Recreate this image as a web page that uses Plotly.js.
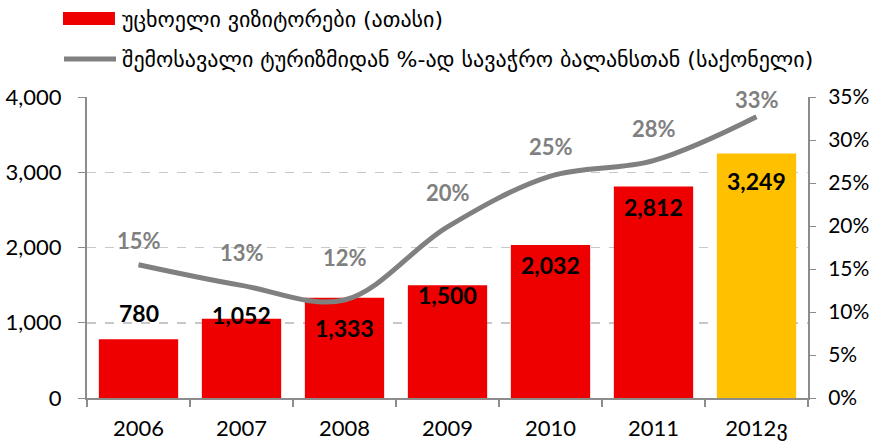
<!DOCTYPE html>
<html>
<head>
<meta charset="utf-8">
<script src="https://cdn.plot.ly/plotly-3.0.1.min.js"></script>
<style>html,body{margin:0;padding:0;background:#fff;} #chart{width:872px;height:443px;}</style>
</head>
<body>
<div id="chart"></div>
<script>
const years = ["2006", "2007", "2008", "2009", "2010", "2011", "2012ვ"];
const visitors = [780, 1052, 1333, 1500, 2032, 2812, 3249];
const visitorLabels = ["780", "1,052", "1,333", "1,500", "2,032", "2,812", "3,249"];
const share = [15.5, 13.1, 11.4, 19.9, 25.8, 27.6, 32.7];
const shareLabels = ["15%", "13%", "12%", "20%", "25%", "28%", "33%"];
const barName = "უცხოელი ვიზიტორები (ათასი)";
const lineName = "შემოსავალი ტურიზმიდან %-ად სავაჭრო ბალანსთან (საქონელი)";

const red = "#EE0000", yellow = "#FFC000", grey = "#808080";
const barColors = [red, red, red, red, red, red, yellow];
const barLabelShift = [26, 4, -30, -10, -20, -21, -27];
const lineLabelShift = [24, 33, 42, 34, 30, 32, 17];

const font = "Lato, 'DejaVu Sans', sans-serif";
const legendFont = "'DejaVu Sans', sans-serif";

const traces = [
  {
    type: "bar", x: years, y: visitors, name: barName,
    marker: {color: barColors}, showlegend: false, hoverinfo: "none"
  },
  {
    type: "scatter", mode: "lines", x: years, y: share.map(v => v / 100), name: lineName,
    yaxis: "y2", line: {color: grey, width: 5, shape: "spline", smoothing: 1},
    showlegend: false, hoverinfo: "none"
  }
];

const annotations = [];
years.forEach((yr, i) => {
  annotations.push({
    x: i, y: visitors[i], xref: "x", yref: "y", text: "<b>" + visitorLabels[i] + "</b>",
    showarrow: false, yshift: barLabelShift[i], font: {family: font, size: 23, color: "#000"}
  });
  annotations.push({
    x: i, y: share[i] / 100, xref: "x", yref: "y2", text: "<b>" + shareLabels[i] + "</b>",
    showarrow: false, yshift: lineLabelShift[i], font: {family: font, size: 22, color: grey}
  });
});
// legend texts
annotations.push({
  x: 0.0458, y: 1.259, xref: "paper", yref: "paper", xanchor: "left", yanchor: "middle",
  text: barName, showarrow: false, font: {family: legendFont, size: 22, color: "#000"}
});
annotations.push({
  x: 0.0458, y: 1.123, xref: "paper", yref: "paper", xanchor: "left", yanchor: "middle",
  text: lineName, showarrow: false, font: {family: legendFont, size: 22, color: "#000"}
});

const shapes = [
  {type: "rect", xref: "paper", yref: "paper", x0: -0.0333, x1: 0.0388, y0: 1.239, y1: 1.282,
   fillcolor: red, line: {width: 0}},
  {type: "line", xref: "paper", yref: "paper", x0: -0.0319, x1: 0.0402, y0: 1.126, y1: 1.126,
   line: {color: grey, width: 5}}
];

const layout = {
  width: 872, height: 443,
  margin: {l: 87, r: 64, t: 97, b: 45},
  paper_bgcolor: "#fff", plot_bgcolor: "rgba(0,0,0,0)",
  font: {family: font, size: 19, color: "#000"},
  bargap: 0.23,
  showlegend: false,
  xaxis: {
    type: "category", range: [-0.5, years.length - 0.5], autorange: false,
    showline: true, linecolor: "#8c8c8c", linewidth: 2,
    ticks: "outside", tickson: "boundaries", ticklen: 7, tickcolor: "#8c8c8c", tickwidth: 2,
    ticklabelstandoff: 10,
    tickfont: {family: font, size: 22, color: "#000"}, showgrid: false, zeroline: false
  },
  yaxis: {
    range: [0, 4000], tickvals: [0, 1000, 2000, 3000, 4000],
    ticktext: ["0", "1,000", "2,000", "3,000", "4,000"],
    showline: true, linecolor: "#8c8c8c", linewidth: 2,
    ticks: "outside", ticklen: 7, tickcolor: "#8c8c8c", tickwidth: 1,
    ticklabelstandoff: 12,
    showgrid: true, gridcolor: "#c8c8c8", griddash: "dash", gridwidth: 1.5,
    zeroline: false, tickfont: {family: font, size: 22, color: "#000"}
  },
  yaxis2: {
    overlaying: "y", side: "right", range: [0, 0.35],
    tickvals: [0, 0.05, 0.10, 0.15, 0.20, 0.25, 0.30, 0.35], tickformat: ".0%",
    showline: true, linecolor: "#8c8c8c", linewidth: 2,
    ticks: "outside", ticklen: 6, tickcolor: "#8c8c8c", tickwidth: 1,
    ticklabelstandoff: 8,
    showgrid: false, zeroline: false, tickfont: {family: font, size: 21, color: "#000"}
  },
  annotations: annotations,
  shapes: shapes
};

Plotly.newPlot("chart", traces, layout, {displayModeBar: false, staticPlot: true});
</script>
</body>
</html>
